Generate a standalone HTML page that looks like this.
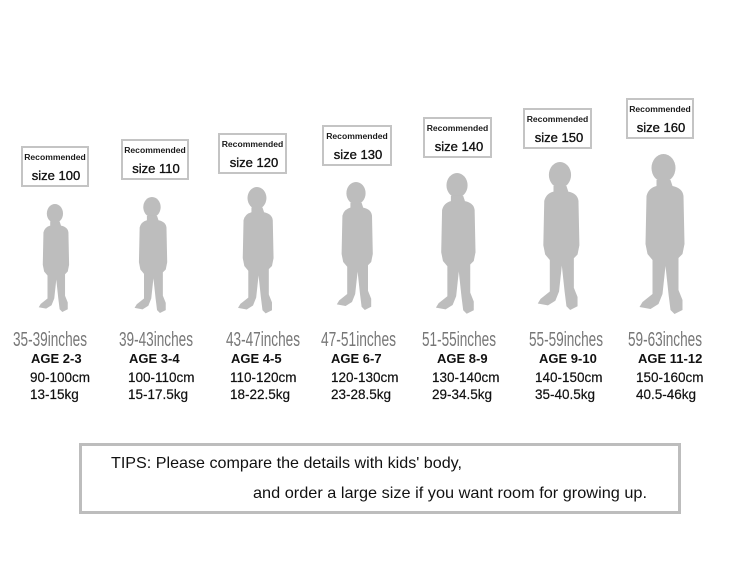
<!DOCTYPE html>
<html><head><meta charset="utf-8"><style>
html,body{margin:0;padding:0;background:#fff;}
svg{display:block;}
.rec{font-family:"Liberation Sans",sans-serif;font-size:8.6px;font-weight:bold;fill:#1a1a1a;}
.sz{font-family:"Liberation Sans",sans-serif;font-size:13px;fill:#111;stroke:#111;stroke-width:0.35px;}
.inch{font-family:"Liberation Sans",sans-serif;font-size:20px;fill:#777;}
.age{font-family:"Liberation Sans",sans-serif;font-size:13px;font-weight:bold;fill:#111;}
.cm{font-family:"Liberation Sans",sans-serif;font-size:13.5px;fill:#111;stroke:#111;stroke-width:0.2px;}
.tip{font-family:"Liberation Sans",sans-serif;font-size:16px;fill:#111;}
.fig{fill:#bdbdbd;}
</style></head><body>
<svg width="750" height="577" viewBox="0 0 750 577" xmlns="http://www.w3.org/2000/svg">
<defs>
<g id="kid">
<ellipse cx="43" cy="14" rx="12" ry="14"/>
<path d="M36 26 L50 26 L52 32 Q62 34 63 42 L64 90 L62 100 L58 104 L58 136 L62 146 L62 156 L54 160 L50 156 L48 140 L45 112 L42 140 L38 150 L30 155 L19 153 L22 148 L32 140 L32 106 L27 100 L25 90 L26 42 Q28 34 36 32 Z"/>
</g>
</defs>

<!-- figures -->
<g class="fig">
<use href="#kid" transform="translate(25.9,204) scale(0.675)"/>
<use href="#kid" transform="translate(120.8,197) scale(0.725)"/>
<use href="#kid" transform="translate(223,187) scale(0.79)"/>
<use href="#kid" transform="translate(321.6,182) scale(0.80)"/>
<use href="#kid" transform="translate(419.2,173) scale(0.88)"/>
<use href="#kid" transform="translate(520.2,162) scale(0.925)"/>
<use href="#kid" transform="translate(620.5,154) scale(1.0)"/>
</g>

<!-- boxes -->
<g fill="none" stroke="#c4c4c4" stroke-width="2">
<rect x="22" y="147" width="66" height="39"/>
<rect x="122" y="140" width="66" height="39"/>
<rect x="219" y="134" width="67" height="39"/>
<rect x="323" y="126" width="68" height="39"/>
<rect x="424" y="118" width="67" height="39"/>
<rect x="524" y="109" width="67" height="39"/>
<rect x="627" y="99" width="66" height="39"/>
</g>

<g text-anchor="middle">
<text class="rec" x="55" y="160">Recommended</text>
<text class="sz" x="56" y="180">size 100</text>
<text class="rec" x="155" y="153">Recommended</text>
<text class="sz" x="156" y="173">size 110</text>
<text class="rec" x="252.5" y="147">Recommended</text>
<text class="sz" x="254" y="167">size 120</text>
<text class="rec" x="357" y="139">Recommended</text>
<text class="sz" x="358" y="159">size 130</text>
<text class="rec" x="457.5" y="131">Recommended</text>
<text class="sz" x="459" y="151">size 140</text>
<text class="rec" x="557.5" y="122">Recommended</text>
<text class="sz" x="559" y="142">size 150</text>
<text class="rec" x="660" y="112">Recommended</text>
<text class="sz" x="661" y="132">size 160</text>
</g>

<!-- inches -->
<text class="inch" x="13" y="346" textLength="74" lengthAdjust="spacingAndGlyphs">35-39inches</text>
<text class="inch" x="119" y="346" textLength="74" lengthAdjust="spacingAndGlyphs">39-43inches</text>
<text class="inch" x="226" y="346" textLength="74" lengthAdjust="spacingAndGlyphs">43-47inches</text>
<text class="inch" x="321" y="346" textLength="75" lengthAdjust="spacingAndGlyphs">47-51inches</text>
<text class="inch" x="422" y="346" textLength="74" lengthAdjust="spacingAndGlyphs">51-55inches</text>
<text class="inch" x="529" y="346" textLength="74" lengthAdjust="spacingAndGlyphs">55-59inches</text>
<text class="inch" x="628" y="346" textLength="74" lengthAdjust="spacingAndGlyphs">59-63inches</text>

<!-- ages -->
<text class="age" x="31" y="363">AGE 2-3</text>
<text class="age" x="129" y="363">AGE 3-4</text>
<text class="age" x="231" y="363">AGE 4-5</text>
<text class="age" x="331" y="363">AGE 6-7</text>
<text class="age" x="437" y="363">AGE 8-9</text>
<text class="age" x="539" y="363">AGE 9-10</text>
<text class="age" x="638" y="363">AGE 11-12</text>

<!-- cm -->
<text class="cm" x="30" y="382">90-100cm</text>
<text class="cm" x="128" y="382">100-110cm</text>
<text class="cm" x="230" y="382">110-120cm</text>
<text class="cm" x="331" y="382">120-130cm</text>
<text class="cm" x="432" y="382">130-140cm</text>
<text class="cm" x="535" y="382">140-150cm</text>
<text class="cm" x="636" y="382">150-160cm</text>

<!-- kg -->
<text class="cm" x="30" y="399">13-15kg</text>
<text class="cm" x="128" y="399">15-17.5kg</text>
<text class="cm" x="230" y="399">18-22.5kg</text>
<text class="cm" x="331" y="399">23-28.5kg</text>
<text class="cm" x="432" y="399">29-34.5kg</text>
<text class="cm" x="535" y="399">35-40.5kg</text>
<text class="cm" x="636" y="399">40.5-46kg</text>

<!-- tips -->
<rect x="80.5" y="444.5" width="599" height="68" fill="none" stroke="#bdbdbd" stroke-width="3"/>
<text class="tip" x="111" y="468" textLength="351" lengthAdjust="spacingAndGlyphs">TIPS: Please compare the details with kids' body,</text>
<text class="tip" x="253" y="498" textLength="394" lengthAdjust="spacingAndGlyphs">and order a large size if you want room for growing up.</text>
</svg>
</body></html>
